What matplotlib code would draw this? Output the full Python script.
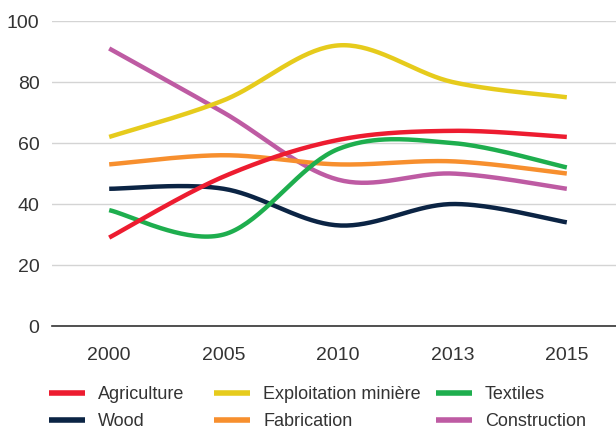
import numpy as np
import matplotlib.pyplot as plt

years = ["2000", "2005", "2010", "2013", "2015"]
series_names = ["Agriculture", "Exploitation minière", "Textiles",
                "Wood", "Fabrication", "Construction"]
agriculture = [29, 49, 61, 64, 62]
exploitation = [62, 74, 92, 80, 75]
textiles = [38, 30, 58, 60, 52]
wood = [45, 45, 33, 40, 34]
fabrication = [53, 56, 53, 54, 50]
construction = [91, 70, 48, 50, 45]
colors = ["#ED1C30", "#E6CB1C", "#1EAE4E", "#0B2444", "#F78F2E", "#BE5BA3"]

# draw order as in the picture (last on top)
draw_order = [5, 1, 4, 3, 2, 0]


def smooth(xs, ys, n=40):
    # catmull-rom style bezier smoothing, like spreadsheet "smoothed lines"
    xs = np.asarray(xs, float)
    ys = np.asarray(ys, float)
    px = np.concatenate([[xs[0]], xs, [xs[-1]]])
    py = np.concatenate([[ys[0]], ys, [ys[-1]]])
    t = np.linspace(0, 1, n)[:, None]
    outx, outy = [], []
    for i in range(1, len(px) - 2):
        p0 = np.array([px[i], py[i]])
        p3 = np.array([px[i + 1], py[i + 1]])
        c1 = p0 + (np.array([px[i + 1], py[i + 1]]) - np.array([px[i - 1], py[i - 1]])) / 6
        c2 = p3 - (np.array([px[i + 2], py[i + 2]]) - p0) / 6
        b = ((1 - t) ** 3) * p0 + 3 * ((1 - t) ** 2) * t * c1 + 3 * (1 - t) * t ** 2 * c2 + t ** 3 * p3
        outx.append(b[:, 0])
        outy.append(b[:, 1])
    return np.concatenate(outx), np.concatenate(outy)


data = [agriculture, exploitation, textiles, wood, fabrication, construction]
x = np.arange(len(years))

plt.rcParams['font.family'] = ['Liberation Sans', 'DejaVu Sans']
fig = plt.figure(figsize=(6.16, 4.29), dpi=100)
ax = fig.add_axes([0.0844, 0.240, 0.9286, 0.711])

lines = {}
for i in draw_order:
    sx, sy = smooth(x, data[i])
    ln, = ax.plot(sx, sy, color=colors[i], lw=3.2, solid_capstyle='butt',
                  label=series_names[i], zorder=3)
    lines[i] = ln

ax.set_xlim(-0.5, 4.5)
ax.set_ylim(0, 100)
ax.set_yticks([0, 20, 40, 60, 80, 100])
ax.set_xticks(x)
ax.set_xticklabels(years)
ax.grid(axis='y', color='#d4d4d4', lw=1)
ax.set_axisbelow(True)
for s in ['top', 'right', 'left']:
    ax.spines[s].set_visible(False)
ax.spines['bottom'].set_color('#333333')
ax.spines['bottom'].set_linewidth(1.2)
ax.tick_params(length=0, labelsize=14, colors='#333333')
ax.tick_params(axis='x', pad=15)
ax.tick_params(axis='y', pad=9)

# legend: three columns, two rows, read across the rows
col_x = [0.080, 0.348, 0.708]
for c in range(3):
    idx = [c, c + 3]
    leg = fig.legend([lines[i] for i in idx], [series_names[i] for i in idx],
                     loc='upper left', bbox_to_anchor=(col_x[c], 0.100),
                     frameon=False, fontsize=13, handlelength=2.0,
                     handletextpad=0.7, labelspacing=0.55, borderaxespad=0,
                     borderpad=0)
    for t in leg.get_texts():
        t.set_color('#333333')
    for h in leg.get_lines():
        h.set_linewidth(4)

fig.savefig("out.png", dpi=100)
